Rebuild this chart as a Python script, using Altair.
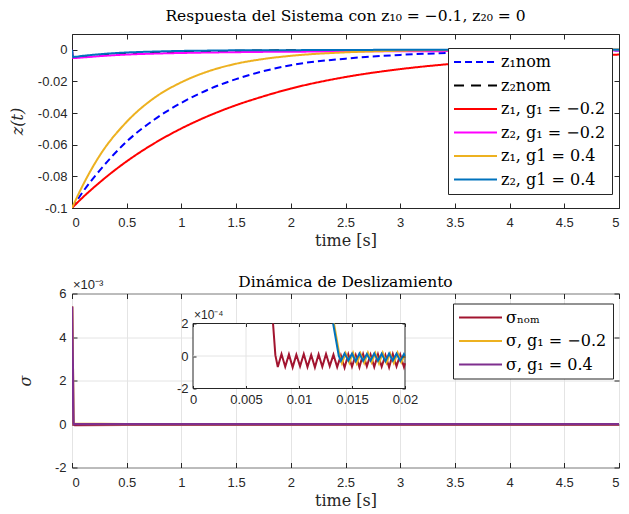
import altair as alt
import pandas as pd

# ---------------- Top panel: system response ----------------
t_top = [0.0, 0.01, 0.1, 0.25, 0.5, 0.75, 1.0, 1.25, 1.5, 1.75, 2.0, 2.5, 3.0, 3.5, 4.0, 4.5, 5.0]
z1_nom = [-0.1, -0.099, -0.0897, -0.0765, -0.0580, -0.0442, -0.0335, -0.0250, -0.0185, -0.0135, -0.0097,
          -0.0056, -0.0032, -0.0019, -0.0011, -0.0007, -0.0004]
z2_nom = [0.0, -0.005, -0.0045, -0.0036, -0.0025, -0.0018, -0.0012, -0.0009, -0.0006, -0.0004, -0.0003,
          -0.0002, -0.0001, -0.0001, 0.0, 0.0, 0.0]
z1_gm02 = [-0.1, -0.0993, -0.0932, -0.0840, -0.0705, -0.0592, -0.0497, -0.0417, -0.0350, -0.0294, -0.0245,
           -0.0172, -0.0122, -0.0087, -0.0062, -0.0044, -0.0030]
z2_gm02 = [0.0, -0.0052, -0.0048, -0.0040, -0.0030, -0.0024, -0.0020, -0.0017, -0.0015, -0.0013, -0.0012,
           -0.0010, -0.0009, -0.0008, -0.0006, -0.0005, -0.0004]
z1_g04 = [-0.1, -0.0985, -0.0855, -0.0672, -0.0455, -0.0305, -0.0205, -0.0135, -0.0088, -0.0058, -0.0038,
          -0.0016, -0.0006, -0.0002, -0.0001, 0.0, 0.0]
z2_g04 = [0.0, -0.0045, -0.0038, -0.0028, -0.0017, -0.0011, -0.0007, -0.0005, -0.0003, -0.0002, -0.0002,
          -0.0001, 0.0, 0.0, 0.0, 0.0, 0.0]
top_names = ["z₁nom", "z₂nom", "z₁, g₁ = −0.2", "z₂, g₁ = −0.2", "z₁, g1 = 0.4", "z₂, g1 = 0.4"]
top_series = [z1_nom, z2_nom, z1_gm02, z2_gm02, z1_g04, z2_g04]
top_colors = ["#0000FF", "#000000", "#FF0000", "#FF00FF", "#EDB120", "#0072BD"]
top_dash = [[7, 4], [10, 7], [1, 0], [1, 0], [1, 0], [1, 0]]

# ---------------- Bottom panel: sliding variable sigma (units of 1e-4) ----------------
sig_t0 = 0.0
sig_v0 = 54.0  # sigma(0) = 5.4e-3
ins_nom_t = [0.00755, 0.00777, 0.00800, 0.00835, 0.00870, 0.00905, 0.00940, 0.00975, 0.01010, 0.01045,
             0.01080, 0.01115, 0.01150, 0.01185, 0.01220, 0.01255, 0.01290, 0.01325, 0.01360, 0.01395,
             0.01430, 0.01465, 0.01500, 0.01535, 0.01570, 0.01605, 0.01640, 0.01675, 0.01710, 0.01745,
             0.01780, 0.01815, 0.01850, 0.01885, 0.01920, 0.01955, 0.01990, 0.02000]
ins_nom_v = [2.0, 0.05, -0.68, 0.12, -0.66, 0.10, -0.70, 0.08, -0.64, 0.12,
             -0.68, 0.06, -0.70, 0.10, -0.66, 0.12, -0.62, 0.08, -0.68, 0.04,
             -0.72, 0.10, -0.66, 0.06, -0.70, 0.12, -0.64, 0.08, -0.68, 0.10,
             -0.66, 0.06, -0.70, 0.12, -0.64, 0.08, -0.68, -0.45]
ins_gm02_t = [0.01330, 0.01385, 0.01405, 0.01440, 0.01475, 0.01510, 0.01545, 0.01580, 0.01615, 0.01650,
              0.01685, 0.01720, 0.01755, 0.01790, 0.01825, 0.01860, 0.01895, 0.01930, 0.01965, 0.02000]
ins_gm02_v = [2.0, -0.05, -0.45, 0.18, -0.42, 0.20, -0.46, 0.16, -0.44, 0.20,
              -0.40, 0.18, -0.46, 0.20, -0.42, 0.16, -0.44, 0.20, -0.40, 0.10]
ins_g04_t = [0.01322, 0.01375, 0.01395, 0.01430, 0.01465, 0.01500, 0.01535, 0.01570, 0.01605, 0.01640,
             0.01675, 0.01710, 0.01745, 0.01780, 0.01815, 0.01850, 0.01885, 0.01920, 0.01955, 0.01990, 0.02000]
ins_g04_v = [2.0, 0.02, -0.30, 0.16, -0.28, 0.14, -0.32, 0.15, -0.30, 0.12,
             -0.28, 0.16, -0.30, 0.14, -0.32, 0.15, -0.28, 0.14, -0.30, 0.12, 0.0]
tail_t = [0.5, 1.0, 1.5, 2.0, 2.5, 3.0, 3.5, 4.0, 4.5, 5.0]
tail_nom = [-0.30, -0.30, -0.31, -0.30, -0.29, -0.30, -0.30, -0.31, -0.30, -0.30]
tail_gm02 = [-0.12, -0.13, -0.12, -0.12, -0.11, -0.12, -0.13, -0.12, -0.12, -0.12]
tail_g04 = [-0.08, -0.08, -0.09, -0.08, -0.08, -0.07, -0.08, -0.08, -0.09, -0.08]
bot_names = ["σₙₒₘ", "σ, g₁ = −0.2", "σ, g₁ = 0.4"]
bot_colors = ["#A2142F", "#EDB120", "#7E2F8E"]
ins_colors = ["#A2142F", "#EDB120", "#0072BD"]

x_ticks = [0, 0.5, 1, 1.5, 2, 2.5, 3, 3.5, 4, 4.5, 5]
top_y_ticks = [-0.1, -0.08, -0.06, -0.04, -0.02, 0]
bot_y_ticks = [-20, 0, 20, 40, 60]
ins_x_ticks = [0, 0.005, 0.01, 0.015, 0.02]
ins_y_ticks = [-2, 0, 2]

assert len(ins_nom_t) == len(ins_nom_v)
assert len(ins_gm02_t) == len(ins_gm02_v)
assert len(ins_g04_t) == len(ins_g04_v)

# ---------------- styles ----------------
BLK = "#262626"
SERIF = "DejaVu Serif"
SANS = "Liberation Sans"
W, H = 547, 174

def lab_axis(orient, values, title, label_expr, grid=False, offset=0, zindex=0, title_pad=4, label_pad=4,
             flush=True, flush_offset=0):
    kw = dict(orient=orient, values=values, labelExpr=label_expr, ticks=False, domain=False,
              grid=grid, gridColor="#e4e4e4", gridWidth=1, labelFont=SANS, labelFontSize=13,
              labelColor=BLK, labelPadding=label_pad, titleFont=SERIF, titleFontSize=16,
              titleFontWeight="normal", titleColor=BLK, titlePadding=title_pad, offset=offset,
              zindex=zindex, labelFlush=flush, labelOverlap=False)
    if flush and flush_offset:
        kw["labelFlushOffset"] = flush_offset
    kw["title"] = title
    if orient == "left":
        kw["titleFontStyle"] = "italic"
    return alt.Axis(**kw)

def tick_axis(orient, values, offset, size=5, zindex=0):
    return alt.Axis(orient=orient, values=values, offset=offset, ticks=True, tickSize=size,
                    tickColor=BLK, tickWidth=1, labels=False, domain=False, grid=False,
                    title=None, zindex=zindex, minExtent=0, maxExtent=0)

POS_EXPR = "datum.value < 0 ? '-' + format(-datum.value, '~g') : format(datum.value, '~g')"
X_EXPR = "format(datum.value, '~g')"

# legend: compact custom line symbol (43 px long), rows ~23 px apart
LEG_SIZE = 196
LEG_PATH = "M-1.14,0H5"

def make_legend(lx, ly):
    return alt.Legend(title=None, orient="none", legendX=lx, legendY=ly, direction="vertical",
                      symbolType=LEG_PATH, symbolSize=LEG_SIZE, symbolStrokeWidth=2,
                      symbolOffset=0, labelOffset=31,
                      labelFont=SERIF, labelFontSize=16, labelColor="black",
                      labelLimit=400, strokeColor=BLK, fillColor="white", padding=6, rowPadding=7.5)

# invisible anchor for the axis-only layers (a single point at the panel centre)
def anchor(tc, vc):
    return pd.DataFrame({"t": [tc], "v": [vc]})

# ---------------- top panel ----------------
rows = []
for i, (name, vals) in enumerate(zip(top_names, top_series)):
    for t, v in zip(t_top, vals):
        rows.append({"t": t, "v": v, "s": name, "o": i})
df_top = pd.DataFrame(rows)

xs_top = alt.Scale(domain=[0, 5], nice=False, zero=False)
ys_top = alt.Scale(domain=[-0.1, 0.01], nice=False, zero=False)
top_legend = make_legend(376, 14)

top_layers = []
for i, name in enumerate(top_names):
    top_layers.append(
        alt.Chart(df_top).transform_filter(alt.datum.o == i)
        .mark_line(strokeWidth=2, interpolate="monotone", clip=True)
        .encode(
            x=alt.X("t:Q", scale=xs_top, axis=None),
            y=alt.Y("v:Q", scale=ys_top, axis=None),
            color=alt.Color("s:N", scale=alt.Scale(domain=top_names, range=top_colors), legend=top_legend),
            strokeDash=alt.StrokeDash("s:N", scale=alt.Scale(domain=top_names, range=top_dash), legend=top_legend),
        )
    )

frame_top = anchor(2.5, -0.05)
top_ax_lab = alt.Chart(frame_top).mark_point(opacity=0, size=0).encode(
    x=alt.X("t:Q", scale=xs_top, axis=lab_axis("bottom", x_ticks, "time [s]", X_EXPR, label_pad=8.5, title_pad=3)),
    y=alt.Y("v:Q", scale=ys_top, axis=lab_axis("left", top_y_ticks, "z(t)", POS_EXPR, title_pad=12, label_pad=5,
                                                 flush=False)),
)
top_ax_t1 = alt.Chart(frame_top).mark_point(opacity=0, size=0).encode(
    x=alt.X("t:Q", scale=xs_top, axis=tick_axis("bottom", x_ticks, -5)),
    y=alt.Y("v:Q", scale=ys_top, axis=tick_axis("left", top_y_ticks, -5)),
)
top_ax_t2 = alt.Chart(frame_top).mark_point(opacity=0, size=0).encode(
    x=alt.X("t:Q", scale=xs_top, axis=tick_axis("top", x_ticks, -5)),
    y=alt.Y("v:Q", scale=ys_top, axis=tick_axis("right", top_y_ticks, -5)),
)

top = alt.layer(top_ax_lab, top_ax_t1, top_ax_t2, *top_layers).resolve_axis(
    x="independent", y="independent"
).properties(
    width=W, height=H,
    title=alt.TitleParams("Respuesta del Sistema con  z₁₀ = −0.1, z₂₀ = 0", font=SERIF, fontSize=15.5,
                          fontWeight="normal", color="black", offset=9),
)

# ---------------- bottom panel ----------------
main_sets = [
    ([sig_t0] + ins_nom_t + tail_t, [sig_v0] + ins_nom_v + tail_nom),
    ([sig_t0] + ins_gm02_t + tail_t, [sig_v0] + ins_gm02_v + tail_gm02),
    ([sig_t0] + ins_g04_t + tail_t, [sig_v0] + ins_g04_v + tail_g04),
]
inset_sets = [(ins_nom_t, ins_nom_v), (ins_gm02_t, ins_gm02_v), (ins_g04_t, ins_g04_v)]

rows = []
for i, (ts, vs) in enumerate(main_sets):
    for t, v in zip(ts, vs):
        rows.append({"t": t, "v": v, "s": bot_names[i], "o": i})
df_bot = pd.DataFrame(rows)
rows = []
for i, (ts, vs) in enumerate(inset_sets):
    for t, v in zip(ts, vs):
        rows.append({"t": t, "v": v, "o": i})
df_ins = pd.DataFrame(rows)

xs_bot = alt.Scale(domain=[0, 5], nice=False, zero=False)
ys_bot = alt.Scale(domain=[-20, 60], nice=False, zero=False)
INS_X0, INS_X1, INS_YB, INS_YT = 121, 333, 95, 30
xs_ins = alt.Scale(domain=[0, 0.02], range=[INS_X0, INS_X1], nice=False, zero=False)
ys_ins = alt.Scale(domain=[-2, 2], range=[INS_YB, INS_YT], nice=False, zero=False)

bot_legend = make_legend(381, 10)

frame_bot = anchor(2.5, 20)
BOT_EXPR = ("datum.value < 0 ? '-' + format(-datum.value/10, '~g') : format(datum.value/10, '~g')")
bot_ax_lab = alt.Chart(frame_bot).mark_point(opacity=0, size=0).encode(
    x=alt.X("t:Q", scale=xs_bot, axis=lab_axis("bottom", x_ticks, "time [s]", X_EXPR, grid=True,
                                                 label_pad=8.5, title_pad=3)),
    y=alt.Y("v:Q", scale=ys_bot, axis=lab_axis("left", bot_y_ticks, "σ", BOT_EXPR, grid=True,
                                                 title_pad=21, label_pad=6, flush=True, flush_offset=6.5)),
)
bot_ax_t1 = alt.Chart(frame_bot).mark_point(opacity=0, size=0).encode(
    x=alt.X("t:Q", scale=xs_bot, axis=tick_axis("bottom", x_ticks, -5)),
    y=alt.Y("v:Q", scale=ys_bot, axis=tick_axis("left", bot_y_ticks, -5)),
)
bot_ax_t2 = alt.Chart(frame_bot).mark_point(opacity=0, size=0).encode(
    x=alt.X("t:Q", scale=xs_bot, axis=tick_axis("top", x_ticks, -5)),
    y=alt.Y("v:Q", scale=ys_bot, axis=tick_axis("right", bot_y_ticks, -5)),
)

bot_lines = []
for i, name in enumerate(bot_names):
    bot_lines.append(
        alt.Chart(df_bot).transform_filter(alt.datum.o == i)
        .mark_line(strokeWidth=2.5, clip=True)
        .encode(
            x=alt.X("t:Q", scale=xs_bot, axis=None),
            y=alt.Y("v:Q", scale=ys_bot, axis=None),
            color=alt.Color("s:N", scale=alt.Scale(domain=bot_names, range=bot_colors), legend=bot_legend),
        )
    )

exp3 = alt.Chart(pd.DataFrame({"t": [0], "v": [60], "lab": ["×10⁻³"]})).mark_text(
    align="left", baseline="bottom", font=SANS, fontSize=13, color=BLK, dx=1, dy=-2
).encode(x=alt.X("t:Q", scale=xs_bot, axis=None), y=alt.Y("v:Q", scale=ys_bot, axis=None), text="lab:N")

# inset
ins_box = alt.Chart(pd.DataFrame({"a": [0], "b": [0.02], "c": [-2], "d": [2]})).mark_rect(
    fill="white", stroke=BLK, strokeWidth=1
).encode(x=alt.X("a:Q", scale=xs_ins, axis=None), x2="b:Q",
         y=alt.Y("c:Q", scale=ys_ins, axis=None), y2="d:Q")
ins_vgrid = alt.Chart(pd.DataFrame({"g": ins_x_ticks[1:-1], "lo": [-2] * 3, "hi": [2] * 3})).mark_rule(
    color="#e4e4e4", strokeWidth=1
).encode(x=alt.X("g:Q", scale=xs_ins, axis=None), y=alt.Y("lo:Q", scale=ys_ins, axis=None), y2="hi:Q")
ins_hgrid = alt.Chart(pd.DataFrame({"g": [0], "lo": [0], "hi": [0.02]})).mark_rule(
    color="#e4e4e4", strokeWidth=1
).encode(y=alt.Y("g:Q", scale=ys_ins, axis=None), x=alt.X("lo:Q", scale=xs_ins, axis=None), x2="hi:Q")

ins_lines = []
for i in range(3):
    ins_lines.append(
        alt.Chart(df_ins).transform_filter(alt.datum.o == i)
        .mark_line(strokeWidth=2, color=ins_colors[i])
        .encode(x=alt.X("t:Q", scale=xs_ins, axis=None), y=alt.Y("v:Q", scale=ys_ins, axis=None))
    )

frame_ins = anchor(0.01, 0)
ins_ax_lab = alt.Chart(frame_ins).mark_point(opacity=0, size=0).encode(
    x=alt.X("t:Q", scale=xs_ins, axis=lab_axis("bottom", ins_x_ticks, None, X_EXPR,
                                                 offset=INS_YB - H, zindex=1, label_pad=5, flush=False)),
    y=alt.Y("v:Q", scale=ys_ins, axis=lab_axis("left", ins_y_ticks, None, POS_EXPR,
                                                 offset=-INS_X0, zindex=1, label_pad=5, flush=False)),
)
ins_ax_t1 = alt.Chart(frame_ins).mark_point(opacity=0, size=0).encode(
    x=alt.X("t:Q", scale=xs_ins, axis=tick_axis("bottom", ins_x_ticks, INS_YB - H - 3, size=3, zindex=1)),
    y=alt.Y("v:Q", scale=ys_ins, axis=tick_axis("left", ins_y_ticks, -INS_X0 - 3, size=3, zindex=1)),
)
ins_ax_t2 = alt.Chart(frame_ins).mark_point(opacity=0, size=0).encode(
    x=alt.X("t:Q", scale=xs_ins, axis=tick_axis("top", ins_x_ticks, -INS_YT - 3, size=3, zindex=1)),
    y=alt.Y("v:Q", scale=ys_ins, axis=tick_axis("right", ins_y_ticks, INS_X1 - 3 - W, size=3, zindex=1)),
)
exp4 = alt.Chart(pd.DataFrame({"t": [0], "v": [2], "lab": ["×10⁻⁴"]})).mark_text(
    align="left", baseline="bottom", font=SANS, fontSize=12, color=BLK, dx=1, dy=-2
).encode(x=alt.X("t:Q", scale=xs_ins, axis=None), y=alt.Y("v:Q", scale=ys_ins, axis=None), text="lab:N")

bottom = alt.layer(
    bot_ax_lab, bot_ax_t1, bot_ax_t2, *bot_lines, exp3,
    ins_box, ins_vgrid, ins_hgrid, *ins_lines, ins_ax_lab, ins_ax_t1, ins_ax_t2, exp4,
).resolve_scale(x="independent", y="independent").properties(
    width=W, height=H,
    title=alt.TitleParams("Dinámica de Deslizamiento", font=SERIF, fontSize=15.5,
                          fontWeight="normal", color="black", offset=-11.5),
)

chart = alt.vconcat(top, bottom, spacing=24.5).resolve_scale(
    color="independent", strokeDash="independent"
).configure_view(stroke=BLK, strokeWidth=1).properties(
    padding={"left": 0, "top": 0, "right": 0, "bottom": 0}
)

chart.save("out.html", embed_options={"renderer": "svg", "actions": False})
